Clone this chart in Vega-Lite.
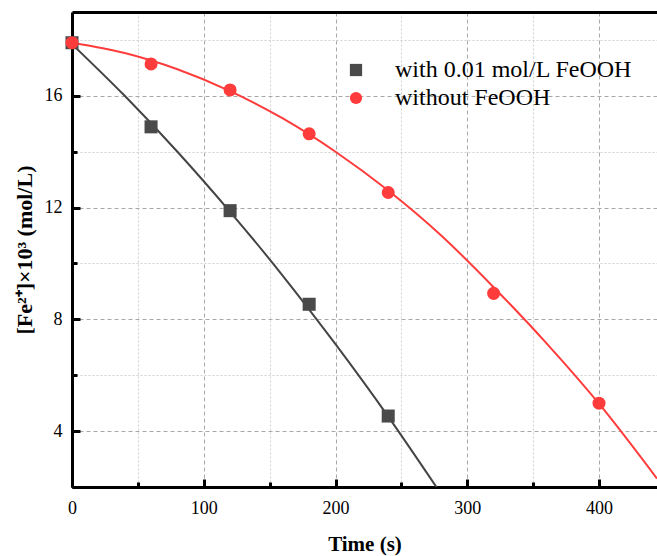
{
  "$schema": "https://vega.github.io/schema/vega-lite/v6.json",
  "autosize": {"type": "none"},
  "padding": {"left": 72, "top": 12, "right": 0, "bottom": 69},
  "width": 585,
  "height": 475,
  "background": "white",
  "config": {
    "font": "Liberation Serif",
    "view": {"stroke": null},
    "axis": {"labelFont": "Liberation Serif", "titleFont": "Liberation Serif", "labelColor": "black", "titleColor": "black"},
    "legend": {"labelFont": "Liberation Serif"}
  },
  "datasets": {
    "points": [
      {"t": 0, "fe": 17.9, "series": "with 0.01 mol/L FeOOH"},
      {"t": 60, "fe": 14.89, "series": "with 0.01 mol/L FeOOH"},
      {"t": 120, "fe": 11.89, "series": "with 0.01 mol/L FeOOH"},
      {"t": 180, "fe": 8.54, "series": "with 0.01 mol/L FeOOH"},
      {"t": 240, "fe": 4.54, "series": "with 0.01 mol/L FeOOH"},
      {"t": 0, "fe": 17.9, "series": "without FeOOH"},
      {"t": 60, "fe": 17.14, "series": "without FeOOH"},
      {"t": 120, "fe": 16.21, "series": "without FeOOH"},
      {"t": 180, "fe": 14.64, "series": "without FeOOH"},
      {"t": 240, "fe": 12.54, "series": "without FeOOH"},
      {"t": 320, "fe": 8.93, "series": "without FeOOH"},
      {"t": 400, "fe": 5.0, "series": "without FeOOH"}
    ],
    "fit": [
      {"t": 0, "fe": 17.85, "series": "with 0.01 mol/L FeOOH"},
      {"t": 40, "fe": 16.0, "series": "with 0.01 mol/L FeOOH"},
      {"t": 80, "fe": 14.0, "series": "with 0.01 mol/L FeOOH"},
      {"t": 120, "fe": 11.85, "series": "with 0.01 mol/L FeOOH"},
      {"t": 160, "fe": 9.56, "series": "with 0.01 mol/L FeOOH"},
      {"t": 200, "fe": 7.11, "series": "with 0.01 mol/L FeOOH"},
      {"t": 240, "fe": 4.52, "series": "with 0.01 mol/L FeOOH"},
      {"t": 278, "fe": 1.9, "series": "with 0.01 mol/L FeOOH"},
      {"t": 0, "fe": 17.9, "series": "without FeOOH"},
      {"t": 40, "fe": 17.53, "series": "without FeOOH"},
      {"t": 80, "fe": 16.95, "series": "without FeOOH"},
      {"t": 120, "fe": 16.17, "series": "without FeOOH"},
      {"t": 160, "fe": 15.19, "series": "without FeOOH"},
      {"t": 200, "fe": 14.0, "series": "without FeOOH"},
      {"t": 240, "fe": 12.61, "series": "without FeOOH"},
      {"t": 280, "fe": 11.01, "series": "without FeOOH"},
      {"t": 320, "fe": 9.15, "series": "without FeOOH"},
      {"t": 360, "fe": 7.15, "series": "without FeOOH"},
      {"t": 400, "fe": 4.98, "series": "without FeOOH"},
      {"t": 444, "fe": 2.3, "series": "without FeOOH"}
    ]
  },
  "resolve": {"axis": {"x": "independent", "y": "independent"}},
  "layer": [
    {
      "data": {"name": "fit"},
      "transform": [{"filter": "datum.series === 'with 0.01 mol/L FeOOH'"}],
      "mark": {"type": "line", "clip": true, "strokeWidth": 2, "interpolate": "monotone", "color": "#444444"},
      "encoding": {
        "x": {"field": "t", "type": "quantitative", "scale": {"domain": [0, 444], "nice": false, "zero": false},
          "axis": {"orient": "bottom", "values": [50, 150, 250, 350], "labels": false, "title": null, "domain": false, "grid": true, "gridColor": "#d0d0d0", "gridDash": [2, 2], "gridWidth": 1, "tickSize": -5, "tickWidth": 3, "tickColor": "black"}},
        "y": {"field": "fe", "type": "quantitative", "scale": {"domain": [2, 19], "nice": false, "zero": false},
          "axis": {"orient": "left", "values": [2, 6, 10, 14, 18], "labels": false, "title": null, "domain": false, "grid": true, "gridColor": "#d0d0d0", "gridDash": [2, 2], "gridWidth": 1, "tickSize": -5, "tickWidth": 3, "tickColor": "black"}}
      }
    },
    {
      "data": {"name": "fit"},
      "transform": [{"filter": "datum.series === 'without FeOOH'"}],
      "mark": {"type": "line", "clip": true, "strokeWidth": 2, "interpolate": "monotone", "color": "#ff3c3c"},
      "encoding": {
        "x": {"field": "t", "type": "quantitative", "axis": null},
        "y": {"field": "fe", "type": "quantitative", "axis": null}
      }
    },
    {
      "data": {"name": "points"},
      "mark": {"type": "point", "filled": true, "opacity": 1, "size": 170},
      "encoding": {
        "x": {"field": "t", "type": "quantitative",
          "axis": {"orient": "bottom", "values": [0, 100, 200, 300, 400], "format": "d", "title": "Time (s)", "titleFontSize": 21, "titleFontWeight": "bold", "titlePadding": 16, "labelFontSize": 18, "labelPadding": 20, "labelFontWeight": "normal", "domain": true, "domainColor": "black", "domainWidth": 3, "grid": true, "gridColor": "#a8a8a8", "gridDash": [4, 3], "gridWidth": 1, "tickSize": -8, "tickWidth": 3, "tickColor": "black", "labelFlush": false}},
        "y": {"field": "fe", "type": "quantitative",
          "axis": {"orient": "left", "values": [4, 8, 12, 16], "format": "d", "title": "[Fe²⁺]×10³ (mol/L)", "titleFontSize": 22, "titleFontWeight": "bold", "titlePadding": 8, "labelFontSize": 18, "labelPadding": 18, "domain": true, "domainColor": "black", "domainWidth": 3, "grid": true, "gridColor": "#a8a8a8", "gridDash": [4, 3], "gridWidth": 1, "tickSize": -8, "tickWidth": 3, "tickColor": "black"}},
        "color": {"field": "series", "type": "nominal", "scale": {"domain": ["with 0.01 mol/L FeOOH", "without FeOOH"], "range": ["#4a4a4a", "#ff3c3c"]},
          "legend": {"orient": "none", "legendX": 272, "legendY": 46, "padding": 0, "title": null, "labelFontSize": 24, "labelColor": "black", "symbolSize": 150, "rowPadding": 4, "labelOffset": 27, "symbolOpacity": 1, "labelLimit": 400}},
        "shape": {"field": "series", "type": "nominal", "scale": {"domain": ["with 0.01 mol/L FeOOH", "without FeOOH"], "range": ["square", "circle"]},
          "legend": {"orient": "none", "legendX": 272, "legendY": 46, "padding": 0, "title": null, "labelFontSize": 24, "labelColor": "black", "symbolSize": 150, "rowPadding": 4, "labelOffset": 27, "symbolOpacity": 1, "labelLimit": 400}}
      }
    },
    {
      "data": {"values": [{"t": 0, "fe": 19}]},
      "mark": {"type": "point", "opacity": 0},
      "encoding": {
        "x": {"field": "t", "type": "quantitative", "axis": {"orient": "top", "labels": false, "ticks": false, "title": null, "grid": false, "domain": true, "domainColor": "black", "domainWidth": 3}},
        "y": {"field": "fe", "type": "quantitative", "axis": null}
      }
    }
  ]
}
